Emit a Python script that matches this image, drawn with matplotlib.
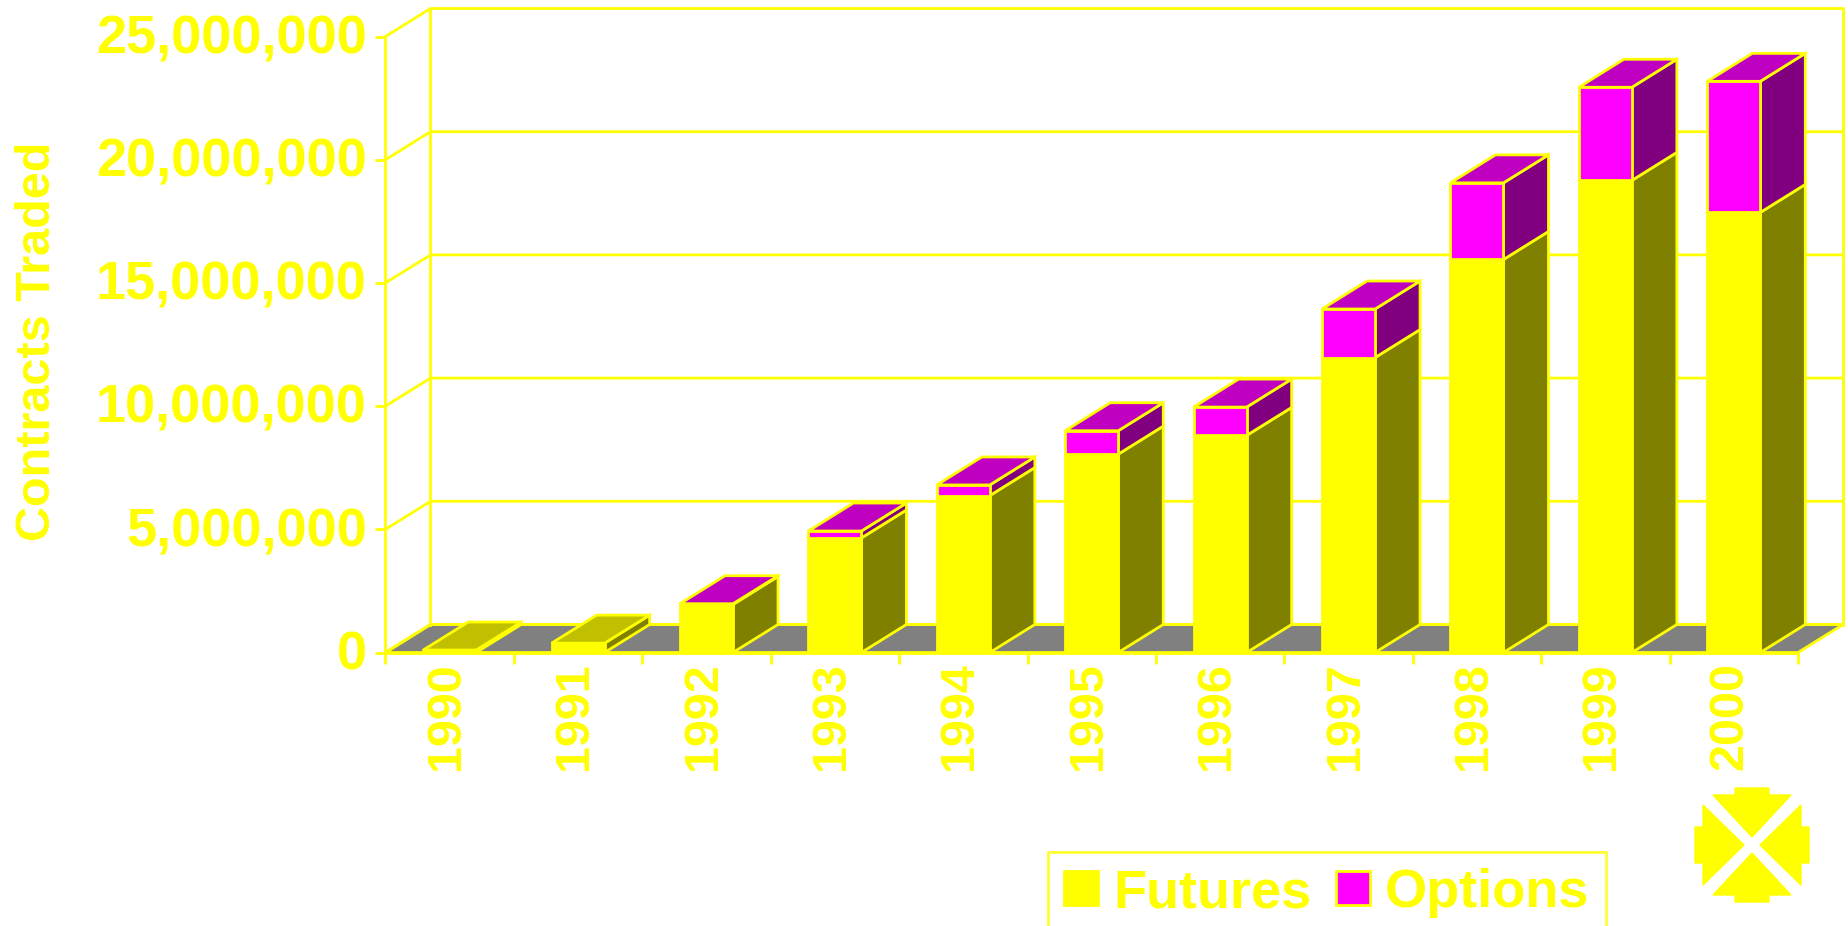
import matplotlib
matplotlib.use('Agg')
import matplotlib.pyplot as plt
from matplotlib.patches import Patch
from matplotlib.ticker import FuncFormatter
from matplotlib.transforms import ScaledTranslation

years = ['1990', '1991', '1992', '1993', '1994', '1995', '1996', '1997', '1998', '1999', '2000']
futures = [100000, 380000, 1950000, 4650000, 6370000, 8050000, 8810000, 11970000, 15950000, 19160000, 17860000]
options = [0, 0, 30000, 280000, 430000, 950000, 1150000, 1970000, 3110000, 3780000, 5320000]
y_ticks = [0, 5000000, 10000000, 15000000, 20000000, 25000000]

YELLOW = '#ffff00'
W, H = 1849, 926
LW = 2

plt.rcParams['font.family'] = ['Liberation Sans', 'DejaVu Sans']
plt.rcParams['font.weight'] = 'bold'

fig = plt.figure(figsize=(W / 100, H / 100), dpi=100, facecolor='white')

# front plane of the fake 3d box, pixel edges
left, right, top, bottom = 385.5, 1798, 36.5, 652.5
ax = fig.add_axes([left / W, 1 - bottom / H, (right - left) / W, (bottom - top) / H])
ax.set_xlim(0, 11)
ax.set_ylim(0, 25000000)
ax.patch.set_visible(False)

# depth of the box in data units (45 px across, 28 px up)
dx = 45 / ((right - left) / 11)
dy = 28 / ((bottom - top) / 25000000)
ymax = 25000000

# floor
ax.fill([0, 11, 11 + dx, dx], [0, 0, dy, dy], facecolor='#808080', edgecolor=YELLOW, lw=LW, clip_on=False, zorder=1)

# walls and grid
ax.plot([dx, dx], [dy, ymax + dy], color=YELLOW, lw=LW, clip_on=False, zorder=1)
ax.plot([11 + dx, 11 + dx], [dy, ymax + dy], color=YELLOW, lw=LW, clip_on=False, zorder=1)
for v in y_ticks:
    ax.plot([0, dx, 11 + dx], [v, v + dy, v + dy], color=YELLOW, lw=LW, clip_on=False, zorder=1)

# bars, one box per year
bw = 53 / ((right - left) / 11)
for i in range(len(years)):
    x0 = i + 0.5 - bw / 2
    x1 = x0 + bw
    f = futures[i]
    o = options[i]
    total = f + o
    ax.fill([x1, x1 + dx, x1 + dx, x1], [0, dy, f + dy, f], facecolor='#808000', edgecolor=YELLOW, lw=LW, zorder=3, clip_on=False)
    ax.bar(i + 0.5, f, width=bw, color=YELLOW, edgecolor=YELLOW, lw=LW, zorder=4)
    if o > 0:
        ax.fill([x1, x1 + dx, x1 + dx, x1], [f, f + dy, total + dy, total], facecolor='#800080', edgecolor=YELLOW, lw=LW, zorder=3, clip_on=False)
        ax.bar(i + 0.5, o, bottom=f, width=bw, color='#ff00ff', edgecolor=YELLOW, lw=LW, zorder=4)
        topc = '#c000c0'
    else:
        topc = '#c0c000'
    ax.fill([x0, x1, x1 + dx, x0 + dx], [total, total, total + dy, total + dy], facecolor=topc, edgecolor=YELLOW, lw=LW, zorder=3, clip_on=False)

# axes
for s in ['top', 'right']:
    ax.spines[s].set_visible(False)
for s in ['left', 'bottom']:
    ax.spines[s].set_color(YELLOW)
    ax.spines[s].set_linewidth(LW)
    ax.spines[s].set_zorder(5)

ax.set_yticks(y_ticks)
ax.yaxis.set_major_formatter(FuncFormatter(lambda v, p: '{:,.0f}'.format(v)))
ax.tick_params(axis='y', colors=YELLOW, length=7.5, width=LW, pad=6, labelsize=39)
for lab in ax.get_yticklabels():
    lab.set_transform(lab.get_transform() + ScaledTranslation(0, 2 / 72, fig.dpi_scale_trans))

ax.set_xticks([i + 0.5 for i in range(len(years))])
ax.set_xticklabels(years, rotation=90)
ax.set_xticks(range(len(years) + 1), minor=True)
ax.tick_params(axis='x', which='major', colors=YELLOW, length=0, pad=7, labelsize=35)
ax.tick_params(axis='x', which='minor', colors=YELLOW, length=8, width=LW)
for lab in ax.get_xticklabels():
    lab.set_transform(lab.get_transform() + ScaledTranslation(-2.5 / 72, 0, fig.dpi_scale_trans))

ax.set_ylabel('Contracts Traded', color=YELLOW, fontsize=35, fontweight='bold')
ax.yaxis.set_label_coords(-0.2305, 0.505)

# legend runs off the bottom edge in the original
handles = [Patch(facecolor=YELLOW, edgecolor=YELLOW, lw=LW), Patch(facecolor='#ff00ff', edgecolor=YELLOW, lw=LW)]
leg = fig.legend(handles, ['Futures', 'Options'], ncols=2, loc='upper left',
                 bbox_to_anchor=(1048 / W, 1 - 852 / H), fontsize=39, frameon=True, fancybox=False,
                 edgecolor=YELLOW, facecolor='none', labelcolor=YELLOW, borderpad=0.3, borderaxespad=0,
                 handlelength=0.62, handleheight=0.6, handletextpad=0.28, columnspacing=0.46)
leg.get_frame().set_linewidth(LW)

# logo, small decoration at the bottom right
logo = fig.add_axes([(1752 - 60) / W, 1 - (845 + 60) / H, 120 / W, 120 / H])
logo.set_xlim(-60, 60)
logo.set_ylim(-60, 60)
logo.axis('off')
tx = [-17, 17, 17, 39, 0, -39, -17]
ty = [57, 57, 50, 50, 8, 50, 50]
sx = [57, 49, 49, 8, 49, 49, 57]
sy = [18, 18, 40, 0, -40, -18, -18]
logo.fill(tx, ty, color=YELLOW)
logo.fill(tx, [-v for v in ty], color=YELLOW)
logo.fill(sx, sy, color=YELLOW)
logo.fill([-v for v in sx], sy, color=YELLOW)

fig.savefig('out.png', dpi=100, facecolor='white')
